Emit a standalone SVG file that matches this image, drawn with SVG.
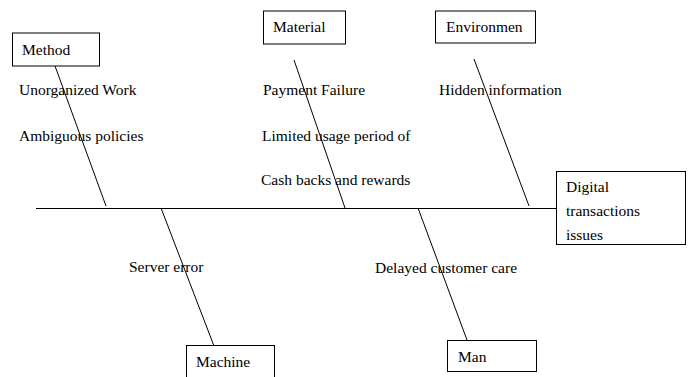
<svg xmlns="http://www.w3.org/2000/svg" width="691" height="377" viewBox="0 0 691 377">
<style>
.box{fill:#fff;stroke:#000;stroke-width:1}
.ln{stroke:#000;stroke-width:1;fill:none}
text{font-family:"Liberation Serif","Times New Roman",serif;font-size:15.5px;fill:#000}
</style>
<rect width="691" height="377" fill="#fff"/>
<g id="connectors">
<line class="ln" x1="36" y1="208.5" x2="556" y2="208.5"/>
<line class="ln" x1="55" y1="66" x2="106" y2="206"/>
<line class="ln" x1="294" y1="60" x2="345" y2="208"/>
<line class="ln" x1="474" y1="59" x2="529" y2="206"/>
<line class="ln" x1="161" y1="208" x2="214" y2="346"/>
<line class="ln" x1="418" y1="208" x2="467" y2="340"/>
</g>
<g id="labels">
<text x="19" y="95">Unorganized Work</text>
<text x="19" y="140.5">Ambiguous policies</text>
<text x="263" y="95">Payment Failure</text>
<text x="262" y="140.5">Limited usage period of</text>
<text x="261" y="185">Cash backs and rewards</text>
<text x="439" y="95">Hidden information</text>
<text x="129" y="272">Server error</text>
<text x="375" y="272.5">Delayed customer care</text>
</g>
<g id="method"><rect class="box" x="12.5" y="33" width="87" height="33"/><text x="22" y="55">Method</text></g>
<g id="material"><rect class="box" x="263.5" y="11" width="82" height="33"/><text x="273" y="32">Material</text></g>
<g id="environment"><rect class="box" x="435.5" y="11" width="100" height="32"/><text x="446" y="32">Environmen</text></g>
<g id="effect"><rect class="box" x="556.5" y="171.5" width="129" height="73"/><text x="566" y="192">Digital</text><text x="566" y="216">transactions</text><text x="566" y="240">issues</text></g>
<g id="machine"><rect class="box" x="186.5" y="345.5" width="88" height="40"/><text x="196" y="367">Machine</text></g>
<g id="man"><rect class="box" x="447.5" y="340.5" width="89" height="31"/><text x="458" y="362">Man</text></g>
</svg>
